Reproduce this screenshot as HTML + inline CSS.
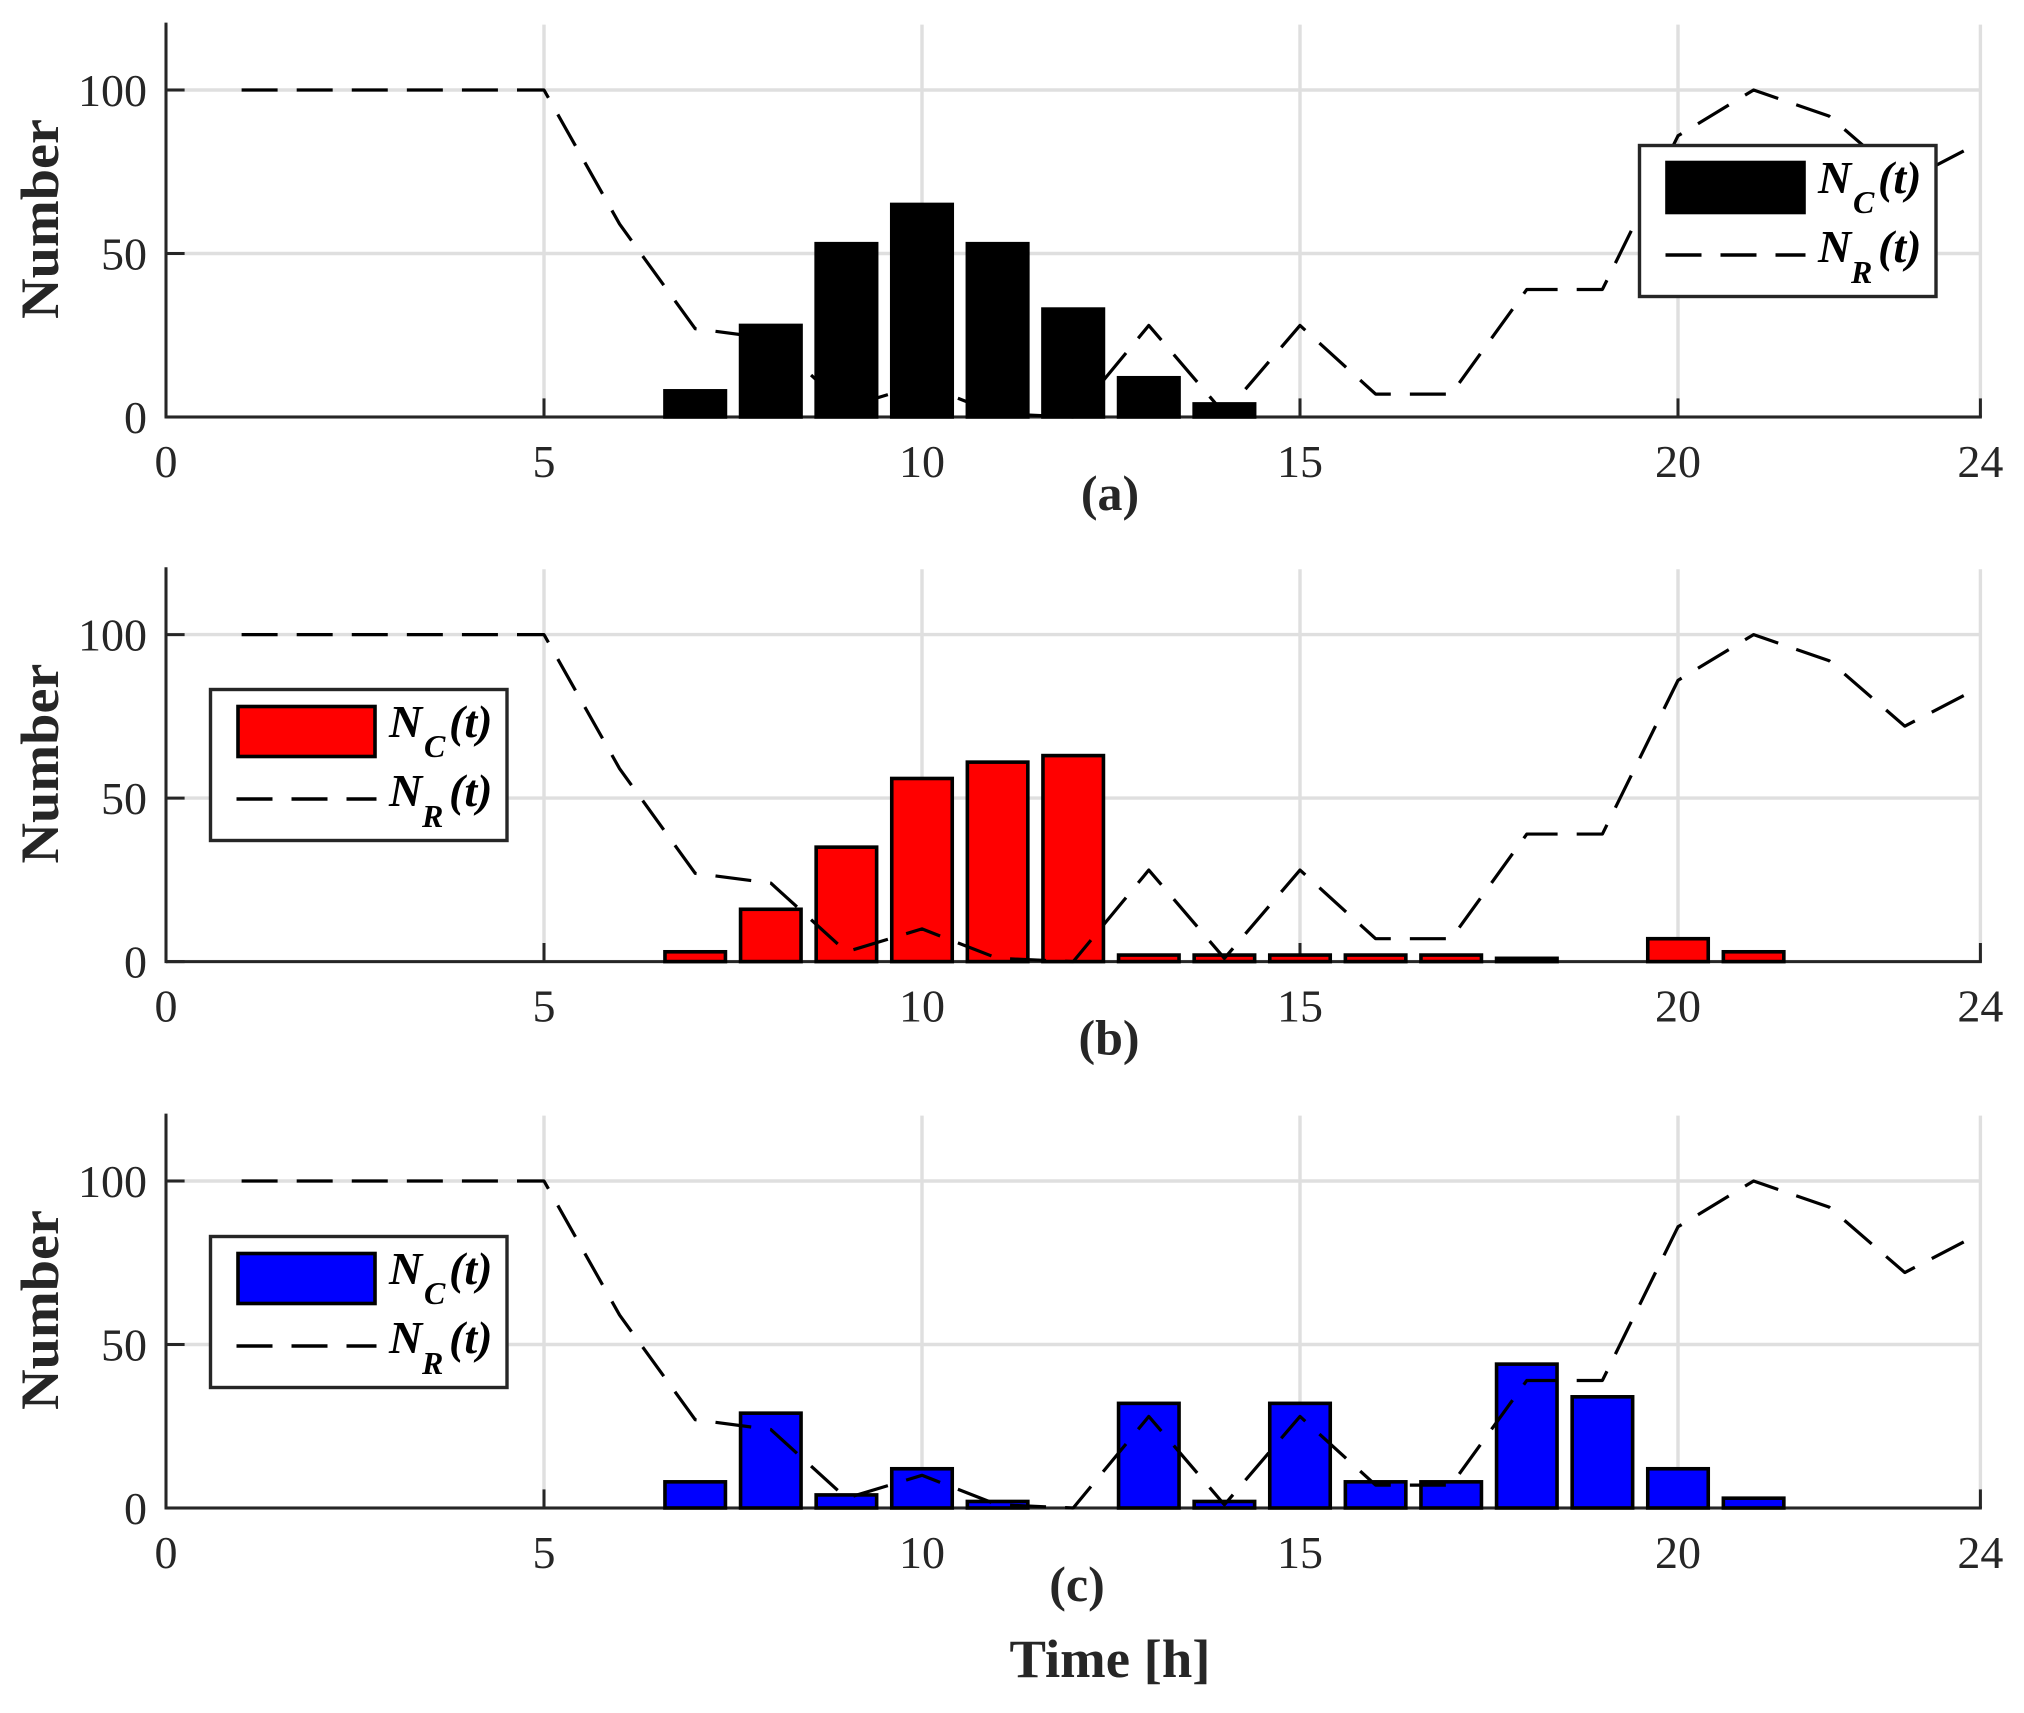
<!DOCTYPE html>
<html lang="en">
<head>
<meta charset="utf-8">
<title>Number of vehicles over time</title>
<style>
html,body{margin:0;padding:0;background:#fff;width:2024px;height:1713px;overflow:hidden}
svg{display:block}
text{font-family:"Liberation Serif",serif}
</style>
</head>
<body>
<svg id="figure" xmlns="http://www.w3.org/2000/svg" width="2024" height="1713" viewBox="0 0 2024 1713"></svg>
<script>
const hours = [1,2,3,4,5,6,7,8,9,10,11,12,13,14,15,16,17,18,19,20,21,22,23,24];
const requiredValues = [100,100,100,100,100,59,27,24,3,10,1,0,28,1,28,7,7,39,39,86,100,92,72,84];
const chargingA = [0,0,0,0,0,0,8,28,53,65,53,33,12,4,0,0,0,0,0,0,0,0,0,0];
const chargingB = [0,0,0,0,0,0,3,16,35,56,61,63,2,2,2,2,2,1,0,7,3,0,0,0];
const chargingC = [0,0,0,0,0,0,8,29,4,12,2,0,32,2,32,8,8,44,34,12,3,0,0,0];
const xTickLabels = [0,5,10,15,20,24];
const yTickLabels = [0,50,100];
const xMin = 0, xMax = 24, yMax = 120;

const svg = document.getElementById('figure');
const NS = 'http://www.w3.org/2000/svg';
const X0 = 166, HOUR = 75.6, UNIT = 3.27;
const AXIS = '#262626', GRID = '#dfdfdf';

function xPos(v){ return X0 + (v - xMin) * HOUR; }
function yPos(v, base){ return base - v * UNIT; }

function make(tag, attrs, parent, content){
  const el = document.createElementNS(NS, tag);
  for (const k in attrs) el.setAttribute(k, attrs[k]);
  if (content !== undefined) el.textContent = content;
  parent.appendChild(el);
  return el;
}

function drawPanel(id, base, values, fill, caption, captionX, legendDx, legendDy){
  const g = make('g', {}, svg);
  
  

  xTickLabels.forEach(function(t){
    const gl = make('line', {x1:xPos(t), x2:xPos(t), y1:yPos(yMax, base), y2:base, stroke:GRID, 'stroke-width':3.4}, g);
    
    
  });
  yTickLabels.forEach(function(t){
    const gl = make('line', {x1:xPos(xMin), x2:xPos(xMax), y1:yPos(t, base), y2:yPos(t, base), stroke:GRID, 'stroke-width':3.4}, g);
    
    
  });

  const yAxis = make('line', {x1:X0, x2:X0, y1:yPos(yMax, base) - 2, y2:base + 1.5, stroke:AXIS, 'stroke-width':3}, g);
  
  
  const xAxis = make('line', {x1:X0, x2:xPos(xMax) + 1.5, y1:base, y2:base, stroke:AXIS, 'stroke-width':3}, g);
  
  

  xTickLabels.forEach(function(t){
    const tk = make('line', {x1:xPos(t), x2:xPos(t), y1:base, y2:base - 18.6, stroke:AXIS, 'stroke-width':3}, g);
    
    
    const lb = make('text', {x:xPos(t), y:base + 60, 'text-anchor':'middle', 'font-size':46, fill:AXIS}, g, String(t));
    
    
  });
  yTickLabels.forEach(function(t){
    const tk = make('line', {x1:X0, x2:X0 + 18.6, y1:yPos(t, base), y2:yPos(t, base), stroke:AXIS, 'stroke-width':3}, g);
    
    
    const lb = make('text', {x:147, y:yPos(t, base) + 16, 'text-anchor':'end', 'font-size':46, fill:AXIS}, g, String(t));
    
    
  });

  const mid = base - 198;
  const yTitle = make('text', {transform:'translate(58,' + mid + ') rotate(-90)', 'text-anchor':'middle', 'font-size':54, 'font-weight':'bold', fill:AXIS, textLength:200, lengthAdjust:'spacingAndGlyphs'}, g, 'Number');
  
  

  hours.forEach(function(h, i){
    const left = xPos(h - 0.4);
    const right = Math.min(xPos(h + 0.4), xPos(xMax));
    const top = yPos(values[i], base);
    const bar = make('rect', {x:left, y:top, width:right - left, height:base - top, fill:fill, stroke:'#000', 'stroke-width':3.6}, g);
    
    
  });

  const pts = hours.map(function(h, i){ return xPos(h) + ',' + yPos(requiredValues[i], base); }).join(' ');
  const line = make('polyline', {points:pts, fill:'none', stroke:'#000', 'stroke-width':3.2, 'stroke-dasharray':'36 19.08', 'stroke-linejoin':'round'}, g);
  
  

  const cap = make('text', {x:captionX, y:base + 93, 'text-anchor':'middle', 'font-size':50, 'font-weight':'bold', fill:AXIS}, g, caption);
  
  

  const leg = make('g', {transform:'translate(' + legendDx + ',' + legendDy + ')'}, g);
  
  
  const box = make('rect', {x:1639.5, y:145.5, width:296.5, height:151, fill:'#fff', stroke:AXIS, 'stroke-width':3.4}, leg);
  
  
  const patch = make('rect', {x:1667, y:162.5, width:137, height:50, fill:fill, stroke:'#000', 'stroke-width':3.6}, leg);
  
  
  const dash = make('line', {x1:1665.5, x2:1805.5, y1:255, y2:255, stroke:'#000', 'stroke-width':3.4, 'stroke-dasharray':'36 19'}, leg);
  
  

  const t1 = make('text', {'font-weight':'bold', 'font-style':'italic', fill:'#000'}, leg);
  
  
  make('tspan', {x:1818, y:193, 'font-size':46}, t1, 'N');
  make('tspan', {x:1853, y:213, 'font-size':32}, t1, 'C');
  make('tspan', {x:1878, y:193, 'font-size':46}, t1, '(t)');

  const t2 = make('text', {'font-weight':'bold', 'font-style':'italic', fill:'#000'}, leg);
  
  
  make('tspan', {x:1818, y:262, 'font-size':46}, t2, 'N');
  make('tspan', {x:1851, y:283, 'font-size':32}, t2, 'R');
  make('tspan', {x:1878, y:262, 'font-size':46}, t2, '(t)');
}

drawPanel('a', 417, chargingA, '#000000', '(a)', 1110, 0, 0);
drawPanel('b', 961.6, chargingB, '#ff0000', '(b)', 1109, -1429, 544);
drawPanel('c', 1508, chargingC, '#0000ff', '(c)', 1077, -1429, 1091);

const xTitle = make('text', {x:1110, y:1677, 'text-anchor':'middle', 'font-size':54, 'font-weight':'bold', fill:AXIS, textLength:201, lengthAdjust:'spacingAndGlyphs'}, svg, 'Time [h]');


</script>
</body>
</html>
